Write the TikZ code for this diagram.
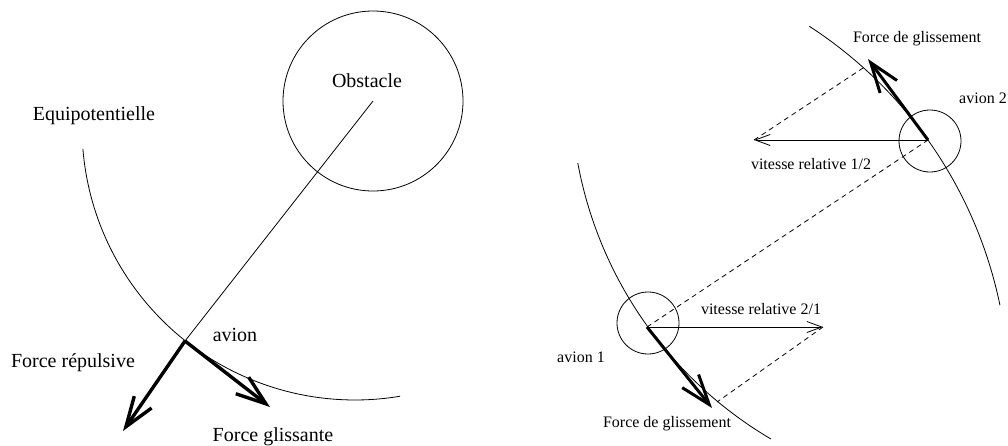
\documentclass[tikz,border=0pt]{standalone}
\usepackage{fontspec}
\setmainfont{Liberation Serif}
\usetikzlibrary{arrows.meta}

\tikzset{
  biglbl/.style={font=\fontsize{20}{24}\selectfont},
  smalllbl/.style={font=\fontsize{16}{19}\selectfont},
  force/.style={line width=3.4pt,-{Straight Barb[length=30pt,width=21pt]}},
  vitesse/.style={line width=0.8pt,-{Straight Barb[length=15pt,width=11pt]}},
  constr/.style={line width=0.8pt,dash pattern=on 5pt off 4pt},
  avionrond/.style={draw,circle,minimum size=62pt,inner sep=0pt},
}

\begin{document}
\begin{tikzpicture}[x=1pt,y=1pt,line width=0.8pt]
\useasboundingbox (0,0) rectangle (1008,-445);

% gauche : obstacle et equipotentielle
\node[draw,circle,minimum size=180pt,inner sep=0pt] (obs) at (373,-101) {};
\node[biglbl] (obslbl) at (367,-81) {Obstacle};
\node[biglbl] (eqlbl) at (94,-116) {Equipotentielle};
\coordinate (av) at (185,-341);
\coordinate (frep) at (123,-431);
\coordinate (fgli) at (270,-407);
\draw (355,-127) ++(184.6:273) arc[start angle=184.6,end angle=279.5,radius=273];
\draw (obs.center) -- (av);
\draw[force] (av) -- (frep);
\draw[force] (av) -- (fgli);
\node[biglbl] (avlbl) at (235,-335) {avion};
\node[biglbl] (freplbl) at (73,-363) {Force r\'epulsive};
\node[biglbl] (fglilbl) at (273,-437) {Force glissante};

% droite : deux avions
\draw (570.4,-394.2) ++(57:438.7) arc[start angle=57,end angle=11.7,radius=438.7];
\draw (977,-89.2) ++(190.5:406) arc[start angle=190.5,end angle=239.5,radius=406];
\coordinate (o2) at (928,-140);
\coordinate (o1) at (647,-327);
\node[avionrond] (a2) at (930,-141) {};
\node[avionrond] (a1) at (648,-323) {};
\coordinate (f2) at (868,-59);
\coordinate (f1) at (712,-408);
\coordinate (v12) at (754,-140);
\coordinate (v21) at (823,-327);
\coordinate (p2) at (863,-68);
\coordinate (p1) at (717,-402);
\draw[constr] (o1) -- (o2);
\draw[constr] (v12) -- (p2);
\draw[constr] (v21) -- (p1);
\draw[vitesse] (o2) -- (v12);
\draw[vitesse] (o1) -- (v21);
\draw[force,line width=3pt] (o2) -- (f2);
\draw[force,line width=3pt] (o1) -- (f1);
\node[smalllbl] (f2lbl) at (917,-39) {Force de glissement};
\node[smalllbl] (a2lbl) at (983,-98) {avion 2};
\node[smalllbl] (v12lbl) at (811,-164) {vitesse relative 1/2};
\node[smalllbl] (v21lbl) at (761,-309) {vitesse relative 2/1};
\node[smalllbl] (a1lbl) at (581,-357) {avion 1};
\node[smalllbl] (f1lbl) at (667,-424) {Force de glissement};
\end{tikzpicture}
\end{document}
